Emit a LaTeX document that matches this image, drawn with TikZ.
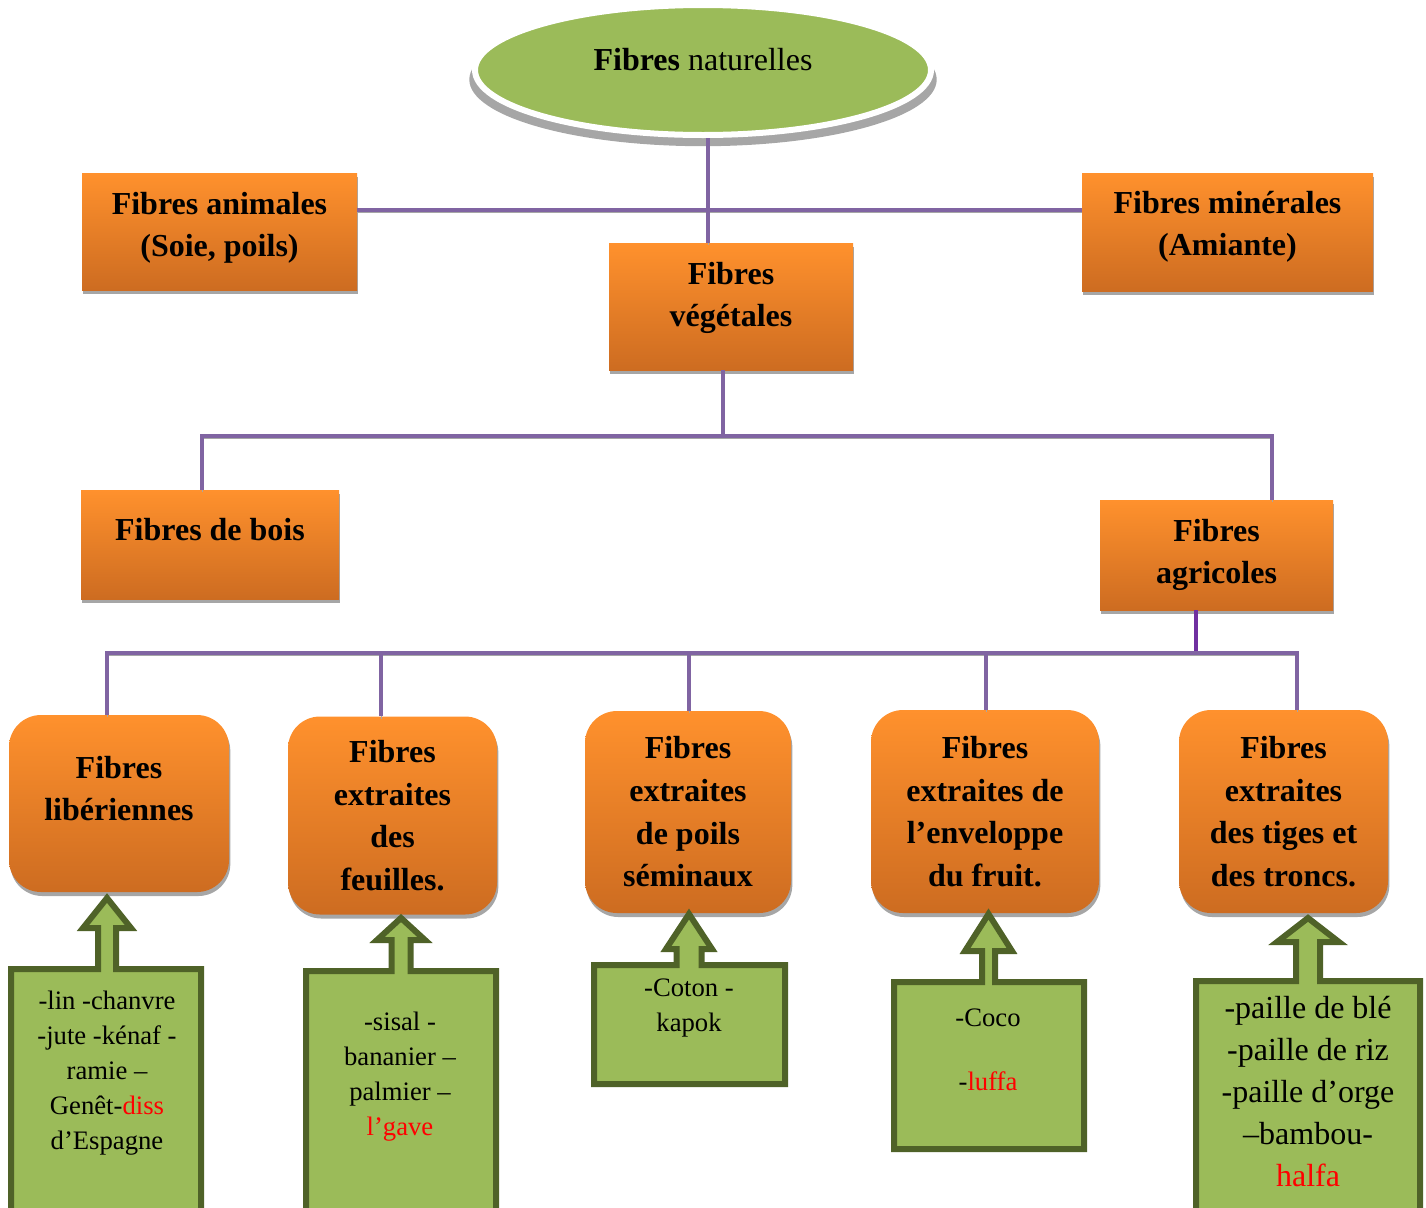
\documentclass[tikz,border=0pt]{standalone}
\usepackage{fontspec}
\setmainfont{Liberation Serif}
\usetikzlibrary{shapes.geometric,shadows}

\definecolor{lnpurple}{RGB}{128,100,162}
\definecolor{stubpurple}{RGB}{112,48,160}
\definecolor{lnshadow}{RGB}{166,166,166}
\definecolor{ortop}{RGB}{255,145,45}
\definecolor{orbot}{RGB}{205,108,33}
\definecolor{shgray}{RGB}{166,166,166}
\definecolor{gfill}{RGB}{155,187,89}
\definecolor{gdark}{RGB}{79,98,40}

\newcommand\lift[1]{\rule[-#1]{0pt}{0pt}}

\tikzset{
  link/.style={draw=lnpurple, line width=3.6pt, preaction={draw=lnshadow, transform canvas={yshift=-2pt}}},
  orbox/.style={rectangle, top color=ortop, bottom color=orbot, inner sep=0pt, align=center,
    general shadow={fill=shgray, shadow xshift=1pt, shadow yshift=-3pt},
    font=\fontsize{24}{32}\selectfont\bfseries},
  orround/.style={orbox, rounded corners=24pt},
  greenbox/.style={draw=gdark, fill=gfill, line width=4.5pt},
  listtxt/.style={align=center, font=\fontsize{20}{26.25}\selectfont},
  listbig/.style={align=center, font=\fontsize{24}{31.5}\selectfont}
}

\begin{document}
\begin{tikzpicture}[x=0.75pt,y=0.75pt,yscale=-1,xscale=1]
\useasboundingbox (0,0) rectangle (1426,1207);

%Shape: Ellipse
\node[ellipse, minimum width=342pt, minimum height=97.5pt, inner sep=0pt, fill=gfill, draw=white, line width=4.5pt,
  general shadow={fill=shgray, shadow scale=1.025, shadow yshift=-7pt},
  font=\fontsize{24}{32}\selectfont] (nat) at (703,70) {\textbf{Fibres} naturelles\lift{16.5pt}};

%Shape: Rectangles
\node[orbox, minimum width=206.25pt, minimum height=87.75pt] (anim) at (219.5,231.5) {Fibres animales\\(Soie, poils)\lift{10.5pt}};
\node[orbox, minimum width=218.25pt, minimum height=88.5pt] (mine) at (1227.5,232) {Fibres minérales\\(Amiante)\lift{12.75pt}};
\node[orbox, minimum width=183pt, minimum height=95.25pt] (veg) at (731,306.5) {Fibres\\végétales\lift{18pt}};
\node[orbox, minimum width=193.5pt, minimum height=81.75pt] (bois) at (210,544.5) {Fibres de bois\lift{22pt}};
\node[orbox, minimum width=174.75pt, minimum height=82.5pt] (agri) at (1216.5,555) {Fibres\\agricoles};

%Shape: Rounded rectangles
\node[orround, minimum width=165pt, minimum height=132.75pt] (lib) at (119,803.5) {Fibres\\libériennes\lift{22.5pt}};
\node[orround, minimum width=156.75pt, minimum height=148.5pt] (feu) at (392.5,815.5) {Fibres\\extraites\\des\\feuilles.};
\node[orround, minimum width=154.5pt, minimum height=151.5pt] (sem) at (688,812) {Fibres\\extraites\\de poils\\séminaux};
\node[orround, minimum width=171pt, minimum height=152.25pt] (fru) at (985,811.5) {Fibres\\extraites de\\l’enveloppe\\du fruit.};
\node[orround, minimum width=156.75pt, minimum height=152.25pt] (tro) at (1283.5,811.5) {Fibres\\extraites\\des tiges et\\des troncs.};

%Straight Lines
\coordinate (tbus) at (705,210);
\draw[link] (anim.east |- tbus) -- (mine.west |- tbus);
\draw[link] (nat.south -| 708,0) -- (veg.north -| 708,0);

\coordinate (vbus) at (723,436);
\coordinate (vbusL) at (202,436);
\coordinate (vbusR) at (1272,436);
\draw[link] (veg.south -| vbus) -- (vbus);
\draw[link] (bois.north -| vbusL) |- (vbusR) -- (vbusR |- agri.north);

\coordinate (abus) at (1196,653);
\draw[link, draw=stubpurple] (agri.south -| abus) -- (abus);
\draw[link] (lib.north -| 107,0) |- (1297,653) -- (tro.north -| 1297,0);
\foreach \n/\x in {feu/381, sem/689, fru/986}
  \draw[link] (\x,653) -- (\n.north -| \x,0);

%Shape: Up Arrow Callouts
\draw[greenbox] (11,969) -- (98,969) -- (98,928) -- (83,928) -- (107,898) -- (131,928) -- (116,928) -- (116,969) -- (201,969) -- (201,1215) -- (11,1215) -- cycle;
\draw[greenbox] (306,971) -- (391.5,971) -- (391.5,940) -- (377,940) -- (401,918) -- (425,940) -- (410.5,940) -- (410.5,971) -- (496,971) -- (496,1215) -- (306,1215) -- cycle;
\draw[greenbox] (594,965) -- (676.5,965) -- (676.5,949) -- (666,949) -- (689,914) -- (712,949) -- (701.5,949) -- (701.5,965) -- (785,965) -- (785,1084) -- (594,1084) -- cycle;
\draw[greenbox] (894,982) -- (982,982) -- (982,951) -- (965,951) -- (988.5,914) -- (1012,951) -- (995,951) -- (995,982) -- (1084,982) -- (1084,1149) -- (894,1149) -- cycle;
\draw[greenbox] (1196,981) -- (1296,981) -- (1296,942) -- (1277,942) -- (1308,918) -- (1339,942) -- (1320,942) -- (1320,981) -- (1420,981) -- (1420,1215) -- (1196,1215) -- cycle;

% Text Nodes
\node[listtxt] (libex) at (107,1073) {-lin -chanvre\\-jute -kénaf -\\ramie –\\Genêt-\textcolor{red}{diss}\\d’Espagne};
\node[listtxt] (feuex) at (400,1077) {-sisal -\\bananier –\\palmier –\\\textcolor{red}{l’gave}};
\node[listtxt] (semex) at (689,1008) {-Coton -\\kapok};
\node[listtxt] (fruex) at (988,1050) {-Coco\\[22pt]-\textcolor{red}{luffa}};
\node[listbig] (troex) at (1308,1092) {-paille de blé\\-paille de riz\\-paille d’orge\\–bambou-\\\textcolor{red}{halfa}};

\end{tikzpicture}
\end{document}
